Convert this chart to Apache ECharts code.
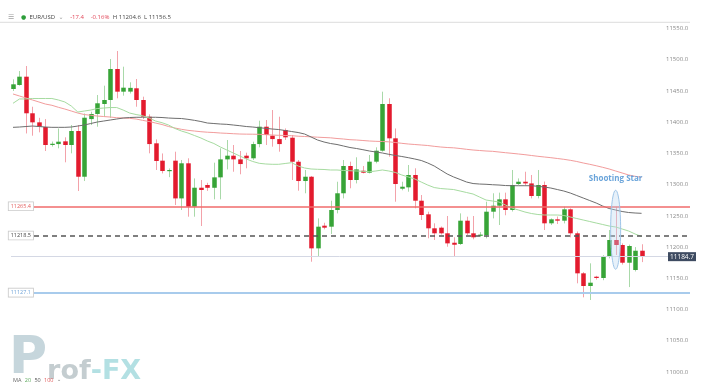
<!DOCTYPE html>
<html><head><meta charset="utf-8">
<script src="https://cdn.jsdelivr.net/npm/echarts@6/dist/echarts.min.js"></script>
<style>html,body{margin:0;padding:0;background:#fff}#c{width:701px;height:391px}</style>
</head><body><div id="c"></div>
<script>
// ---- candle data (EUR/USD) ----
const opens = [11453.2,11459.6,11472.9,11414.3,11399.8,11392.3,11364.5,11365,11369.4,11363.5,
11385.9,11312.7,11405,11413.2,11429.2,11435.6,11485.2,11448.9,11449,11454.3,
11435.6,11408.8,11366.2,11338.4,11321.9,11338.4,11278,11334.2,11264.7,11295.1,
11299.5,11295,11311.7,11340.5,11346.4,11340.5,11346.4,11342.2,11365,11392.8,
11378.4,11373,11387.5,11375.2,11336.7,11305.8,11312.7,11198,11234.3,11232.7,
11259.4,11286.2,11329.9,11307.5,11322.3,11319.1,11336.8,11354.4,11429.2,11374.2,
11293.5,11295.7,11315.5,11274.3,11252.5,11230.1,11231.1,11222.1,11207,11205,
11242.3,11222.1,11219,11219.4,11256.7,11266.3,11276.5,11259.4,11301,11304.7,
11302,11281.8,11299.5,11238.1,11244.5,11242.3,11260.5,11222.1,11158,11137.7,
11152.6,11150.5,11184.6,11211.4,11203.4,11175,11163.3,11194.2];
const closes = [11460.7,11472.9,11414.3,11399.8,11392.8,11363.5,11365.5,11368.8,11363.5,11385.9,
11312.7,11407.2,11413.2,11430.3,11435.6,11485.2,11448.9,11455.3,11455,11435.6,
11408.8,11365,11337.9,11321.9,11323.5,11278,11334.2,11264.7,11295.1,11291.4,
11295,11311.7,11340.5,11346.4,11340.5,11333,11342.2,11365,11392.8,11379.5,
11373,11365,11375.8,11336.7,11305.8,11312.7,11198,11232.7,11231.1,11259.4,
11286.2,11329.9,11307.5,11324.5,11319.1,11336.8,11354.4,11429.2,11374.2,11301,
11296.7,11315.5,11274.3,11251.4,11230.1,11222.1,11222.1,11206,11203.8,11242.3,
11222.1,11215.7,11220,11256.7,11266.3,11276.5,11259.4,11299.5,11304.7,11302,
11281.8,11299.5,11238.1,11244.5,11242.3,11260.5,11222.1,11158,11137.7,11143,
11150.5,11184.6,11211.4,11203.4,11175,11201.8,11194.2,11184.7];
const lows = [11450,11458.5,11382,11378.4,11383.8,11353.9,11361,11358.2,11335.8,11350.2,
11289.8,11305.8,11395.5,11392.8,11408.8,11407,11438.3,11442.5,11446,11424.8,
11405,11350.2,11323.5,11318,11312,11267.4,11259.4,11248.7,11248.7,11233.8,
11290,11276.5,11276.5,11324.5,11320.7,11316.6,11326.2,11339.5,11359.8,11363.5,
11360.8,11352.8,11371.5,11307.5,11290.3,11286.2,11176.6,11184.6,11228.5,11221,
11254,11278,11294.2,11302,11318,11318,11334.2,11352.8,11344.8,11272.7,
11291,11288.7,11262.1,11243.4,11214.1,11211.4,11220,11200.6,11184.6,11203.4,
11219.4,11212.5,11216,11214,11246,11235.4,11251,11257,11299,11299,
11278,11278,11227.4,11235.4,11237,11238,11215.7,11142,11119.6,11115.3,
11148,11147,11182,11187.4,11172,11136,11161,11176];
const highs = [11468.7,11482,11490,11424.8,11407,11405,11369,11390,11375.8,11395.5,
11395.5,11414,11416.8,11443.6,11458.5,11501.2,11514,11488.9,11463.9,11469.2,
11440.9,11412.6,11372.5,11350,11326,11352.8,11339.5,11342.2,11310,11307.5,
11303,11335.2,11358.2,11371.5,11363.5,11353.9,11351.2,11368.8,11402.4,11403.5,
11419.5,11408.8,11390,11379.5,11339.5,11323.5,11313.9,11246,11239,11274.3,
11304.7,11339.5,11336.8,11343.8,11329.9,11347.5,11359.8,11448.9,11438.3,11390,
11304.7,11331.5,11326.2,11283.4,11256.7,11238.1,11233,11249.8,11215.7,11254,
11248.7,11249.8,11224,11272.7,11286.2,11287.2,11287.2,11323.5,11310,11320.7,
11315.5,11323.5,11305,11246,11249,11264.7,11262,11225,11160,11174,
11154,11187,11227.4,11264.7,11206,11204,11200,11204.6];

// ---- moving averages ----
const ma20 = [11430.3,11437.2,11437.2,11438.0,11438.0,11438.0,11438.0,11435.6,11432.4,11425.9,
11416.3,11417.9,11419.5,11421.9,11422.7,11423.5,11423.5,11419.5,11414.7,11412.3,
11410.4,11406.7,11401.9,11399.2,11395.5,11389.9,11385.9,11382.7,11378.7,11374.7,
11369.9,11365.9,11360.3,11355.5,11350.7,11345.9,11341.1,11337.1,11334.2,11333.1,
11332.6,11332.6,11333.9,11335.2,11329.9,11326.7,11325.1,11324.6,11324.3,11323.5,
11323.5,11322.7,11322.3,11321.9,11321.4,11320.7,11321.9,11323.5,11321.9,11319.5,
11315.5,11312.3,11309.1,11304.2,11299.4,11295.4,11293.8,11293.0,11292.2,11289.8,
11287.4,11285.0,11280.2,11275.4,11273.8,11272.2,11267.4,11262.6,11259.4,11256.2,
11253.8,11252.2,11251.4,11251.4,11251.4,11250.6,11248.2,11245.8,11243.4,11241.0,
11238.6,11236.2,11233.8,11232.2,11229.0,11225.8,11221.0,11217.0];
const ma50 = [11391.8,11392.3,11393.1,11393.9,11393.1,11392.3,11391.8,11391.8,11391.8,11392.3,
11393.9,11395.5,11397.9,11400.3,11401.9,11403.5,11405.1,11406.7,11407.5,11407.9,
11407.9,11407.9,11407.9,11407.5,11406.7,11406.2,11405.9,11404.6,11403.0,11401.1,
11398.7,11397.9,11397.1,11396.6,11395.5,11394.4,11393.1,11392.3,11391.2,11390.2,
11389.1,11388.3,11386.7,11385.1,11383.5,11381.1,11376.3,11371.5,11368.3,11365.9,
11364.3,11361.9,11359.5,11357.9,11356.0,11353.9,11352.3,11350.7,11348.6,11346.7,
11345.1,11343.2,11341.1,11338.7,11334.7,11329.9,11323.5,11317.1,11312.3,11308.3,
11304.2,11301.8,11301.0,11300.6,11299.9,11299.4,11298.6,11298.3,11298.3,11298.3,
11298.3,11297.4,11296.2,11294.6,11292.2,11289.8,11286.6,11282.6,11278.6,11274.6,
11270.6,11265.8,11261.8,11259.4,11257.0,11255.4,11254.6,11254.1];
const ma100 = [11445.2,11442.0,11438.8,11435.6,11432.4,11429.1,11427.1,11423.9,11421.1,11417.9,
11414.7,11412.3,11411.1,11409.9,11409.1,11408.3,11407.2,11406.7,11406.2,11405.1,
11403.0,11401.1,11398.7,11396.3,11393.1,11390.7,11388.6,11387.0,11385.9,11384.8,
11384.0,11383.5,11382.7,11382.2,11381.6,11381.1,11380.9,11380.8,11380.6,11380.1,
11379.5,11379.0,11378.7,11378.4,11377.6,11377.1,11376.6,11376.0,11375.5,11375.0,
11373.9,11373.1,11372.0,11371.5,11370.7,11369.9,11369.4,11369.1,11368.6,11367.5,
11366.2,11365.1,11364.3,11363.5,11362.7,11361.4,11360.3,11359.5,11359.0,11357.9,
11356.6,11355.5,11354.7,11353.9,11353.4,11352.3,11351.2,11350.2,11349.1,11348.0,
11346.7,11345.4,11344.3,11343.2,11341.9,11340.6,11339.0,11337.1,11334.7,11332.6,
11330.3,11327.8,11325.1,11321.9,11318.7,11315.5,11313.4,11311.8];

// ---- levels & labels ----
const resistanceLevel = 11265.4;
const pivotLevel = 11218.5;
const supportLevel = 11127.1;
const lastPrice = 11184.7;
const yTickLabels = ['11000.0','11050.0','11100.0','11150.0','11200.0','11250.0','11300.0','11350.0','11400.0','11450.0','11500.0','11550.0'];
const headerSymbol = 'EUR/USD';
const headerChange = '-17.4';
const headerPct = '-0.16%';
const headerHigh = '11204.6';
const headerLow = '11156.5';
const maPeriods = ['20','50','100'];
const annotationText = 'Shooting Star';
const annotationIndex = 93;
const annotationTop = 11291;
const annotationBottom = 11164.5;
const annotationTextValue = 11310;

const slotCount = 105; // 98 candles + empty right margin slots
const categories = Array.from({length: slotCount}, (_, i) => String(i));
const candleData = opens.map((o, i) => [i, o, closes[i], lows[i], highs[i]]);

const UP = '#37a437', DOWN = '#e31b2e', UPW = '#a9d9a9', DOWNW = '#f3a2aa';
const FONT = 'Open Sans';

const chart = echarts.init(document.getElementById('c'));

const levelLabel = (color, value) => ({
  show: true, position: 'start', distance: 1, fontSize: 5.5, fontFamily: FONT, color: color,
  backgroundColor: '#fff', borderColor: '#c9c9c9', borderWidth: 0.8, padding: [1, 2],
  formatter: () => value.toFixed(1)
});

const option = {
  animation: false,
  backgroundColor: '#fff',
  grid: {left: 9.76, right: 701 - 9.76 - slotCount * 6.48, top: 22.3, bottom: 19},
  xAxis: {
    type: 'category', data: categories, boundaryGap: true,
    axisLine: {show: false}, axisTick: {show: false}, axisLabel: {show: false}, splitLine: {show: false}
  },
  yAxis: {
    type: 'value', position: 'right', min: 11000, max: 11560, interval: 50, scale: true,
    axisLine: {show: false}, axisTick: {show: false}, splitLine: {show: false},
    axisLabel: {
      inside: true, margin: 2, fontSize: 6, color: '#8a8a8a', fontFamily: FONT,
      formatter: v => { const s = Number(v).toFixed(1); return yTickLabels.indexOf(s) >= 0 ? s : ''; }
    }
  },
  series: [
    {
      type: 'custom', name: 'EUR/USD', data: candleData, encode: {x: 0, y: [1, 2, 3, 4]}, z: 3,
      renderItem: (params, api) => {
        const i = api.value(0), o = api.value(1), c = api.value(2), l = api.value(3), h = api.value(4);
        const pO = api.coord([i, o]), pC = api.coord([i, c]), pL = api.coord([i, l]), pH = api.coord([i, h]);
        const w = api.size([1, 0])[0] * 0.7;
        const up = c >= o;
        const x = Math.round(pO[0]) + 0.5;
        return {type: 'group', children: [
          {type: 'line', shape: {x1: x, y1: pH[1], x2: x, y2: pL[1]}, style: {stroke: up ? UPW : DOWNW, lineWidth: 1}},
          {type: 'rect', shape: {x: x - w / 2, y: Math.min(pO[1], pC[1]), width: w, height: Math.max(1.2, Math.abs(pO[1] - pC[1]))},
            style: {fill: up ? UP : DOWN}}
        ]};
      }
    },
    {type: 'line', name: 'MA100', data: ma100, symbol: 'none', z: 4, lineStyle: {color: '#f29c9c', width: 1}},
    {type: 'line', name: 'MA50', data: ma50, symbol: 'none', z: 4, lineStyle: {color: '#6e6e6e', width: 1}},
    {type: 'line', name: 'MA20', data: ma20, symbol: 'none', z: 4, lineStyle: {color: '#a6dba0', width: 1},
      markLine: {
        silent: true, symbol: ['none', 'none'], animation: false,
        data: [
          [{yAxis: resistanceLevel, x: 34, lineStyle: {color: '#f06b6b', width: 1.5, type: 'solid'}, label: levelLabel('#e36060', resistanceLevel)},
           {yAxis: resistanceLevel, x: 690}],
          [{yAxis: pivotLevel, x: 34, lineStyle: {color: '#555', width: 1.5, type: [5, 4]}, label: levelLabel('#444', pivotLevel)},
           {yAxis: pivotLevel, x: 690}],
          [{yAxis: supportLevel, x: 34, lineStyle: {color: '#a8cbec', width: 2, type: 'solid'}, label: levelLabel('#6fa3d8', supportLevel)},
           {yAxis: supportLevel, x: 690}],
          [{yAxis: lastPrice, x: 11, lineStyle: {color: '#d4d8e4', width: 1, type: 'solid'},
            label: {show: true, position: 'end', distance: 0, fontSize: 6.5, fontFamily: FONT, color: '#fff',
              backgroundColor: '#3e4b61', padding: [1, 2], formatter: () => lastPrice.toFixed(1)}},
           {yAxis: lastPrice, x: 668}]
        ]
      }
    }
  ]
};
chart.setOption(option);

const px = (i, v) => chart.convertToPixel({gridIndex: 0}, [i, v]);
const topY = px(0, 11560)[1];
const eTop = px(annotationIndex, annotationTop), eBot = px(annotationIndex, annotationBottom);
const tPos = px(annotationIndex, annotationTextValue);

chart.setOption({
  graphic: [
    {type: 'line', silent: true, z: 1, shape: {x1: 0, y1: topY, x2: 690, y2: topY}, style: {stroke: '#dcdcdc', lineWidth: 1}},
    {type: 'text', silent: true, x: 8, y: 11, z: 10, style: {
      text: '{i|☰}  {d|●} {n|' + headerSymbol + '} {a|⌄}  {r|' + headerChange + '}  {r|' + headerPct + '} {n|H ' + headerHigh + '  L ' + headerLow + '}',
      rich: {
        i: {fontSize: 7, fill: '#a0a0a0', fontFamily: 'DejaVu Sans'},
        d: {fontSize: 6, fill: '#2e9e3a', fontFamily: 'DejaVu Sans'},
        n: {fontSize: 6, fill: '#444', fontFamily: FONT},
        a: {fontSize: 6, fill: '#999', fontFamily: 'DejaVu Sans'},
        r: {fontSize: 6, fill: '#e2485a', fontFamily: FONT}
      }
    }},
    {type: 'text', silent: true, x: 9, y: 333, z: 1, style: {
      text: '{p|P}{g|rof}{t|-FX}',
      rich: {
        p: {fontSize: 52, fontWeight: 'bold', fill: '#c6d6dc', fontFamily: 'DejaVu Sans', verticalAlign: 'bottom'},
        g: {fontSize: 27, fontWeight: 'bold', fill: '#c4cdd0', fontFamily: 'DejaVu Sans', verticalAlign: 'bottom'},
        t: {fontSize: 27, fontWeight: 'bold', fill: '#b3e0e3', fontFamily: 'DejaVu Sans', verticalAlign: 'bottom'}
      }
    }},
    {type: 'text', silent: true, x: 13, y: 374, z: 10, style: {
      text: '{m|MA} {g|' + maPeriods[0] + '} {k|' + maPeriods[1] + '} {r|' + maPeriods[2] + '} {a|⌄}',
      rich: {
        m: {fontSize: 5.5, fill: '#666', fontFamily: FONT},
        g: {fontSize: 5.5, fill: '#5aa85a', fontFamily: FONT},
        k: {fontSize: 5.5, fill: '#555', fontFamily: FONT},
        r: {fontSize: 5.5, fill: '#e05a5a', fontFamily: FONT},
        a: {fontSize: 5.5, fill: '#888', fontFamily: 'DejaVu Sans'}
      }
    }},
    {type: 'ellipse', silent: true, z: 20, shape: {cx: eTop[0], cy: (eTop[1] + eBot[1]) / 2, rx: 5, ry: (eBot[1] - eTop[1]) / 2},
      style: {fill: 'rgba(186,214,240,0.35)', stroke: '#9fc5e8', lineWidth: 1}},
    {type: 'text', silent: true, z: 20, x: tPos[0], y: tPos[1], style: {
      text: annotationText, fill: '#6aa4da', fontSize: 8, fontWeight: 'bold', fontFamily: FONT,
      align: 'center', verticalAlign: 'middle'}}
  ]
});
</script></body></html>
